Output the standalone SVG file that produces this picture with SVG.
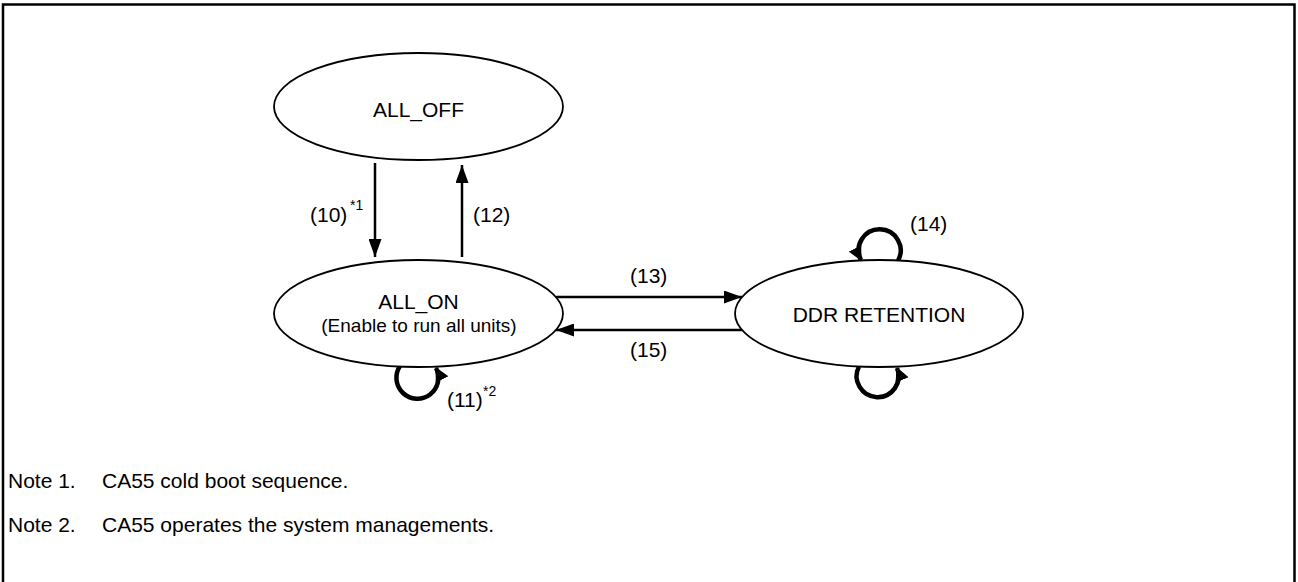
<svg xmlns="http://www.w3.org/2000/svg" width="1298" height="582" viewBox="0 0 1298 582">
<style>
.t{font-family:"Liberation Sans",Arial,sans-serif;fill:#000}
.n{font-size:21px}
.s{font-size:14px}
.nt{font-size:21px}
.st{fill:#fff;stroke:#000;stroke-width:1.8}
.ln{fill:none;stroke:#000;stroke-width:2.5}
.lp{fill:none;stroke:#000;stroke-width:4.5}
</style>
<defs>
<marker id="ah" markerUnits="userSpaceOnUse" markerWidth="18" markerHeight="13" viewBox="0 0 18 13" refX="18" refY="6.5" orient="auto"><path d="M0,0 L18,6.5 L0,13 z" fill="#000"/></marker>
<marker id="lh" markerUnits="userSpaceOnUse" markerWidth="14" markerHeight="14" viewBox="0 0 14 14" refX="13" refY="7" orient="auto"><path d="M0,0 L14,7 L0,14 z" fill="#000"/></marker>
</defs>
<path d="M3,582 V4.5 H1294.5 V582" fill="none" stroke="#000" stroke-width="2.5"/>
<g id="connectors">
<path class="ln" d="M375,163 L375,257" marker-end="url(#ah)"/>
<path class="ln" d="M462,257 L462,165" marker-end="url(#ah)"/>
<path class="ln" d="M556,297 L742,297" marker-end="url(#ah)"/>
<path class="ln" d="M742,330 L556,330" marker-end="url(#ah)"/>
<path class="lp" d="M400,366 A21,21 0 1 0 436,368" marker-end="url(#lh)"/>
<path class="lp" d="M898,260.5 A21,21 0 1 0 861,260" marker-end="url(#lh)"/>
<path class="lp" d="M859,366.5 A21,21 0 1 0 897,368" marker-end="url(#lh)"/>
<text class="t n" x="310" y="222">(10)</text><text class="t s" x="350" y="210">*1</text>
<text class="t n" x="473" y="222">(12)</text>
<text class="t n" x="630" y="283">(13)</text>
<text class="t n" x="630" y="357">(15)</text>
<text class="t n" x="910" y="231">(14)</text>
<text class="t n" x="447" y="407">(11)</text><text class="t s" x="483" y="396">*2</text>
</g>
<g id="all_off">
<ellipse class="st" cx="418.5" cy="106.5" rx="144.5" ry="53.5"/>
<text class="t n" x="418.5" y="117" text-anchor="middle">ALL_OFF</text>
</g>
<g id="all_on">
<ellipse class="st" cx="418.5" cy="313.5" rx="144.5" ry="53.5"/>
<text class="t n" x="418.5" y="309" text-anchor="middle">ALL_ON</text>
<text class="t" x="419" y="332" text-anchor="middle" font-size="19">(Enable to run all units)</text>
</g>
<g id="ddr_retention">
<ellipse class="st" cx="879" cy="313.5" rx="144" ry="53.5"/>
<text class="t n" x="879" y="322" text-anchor="middle">DDR RETENTION</text>
</g>
<g id="notes">
<text class="t nt" x="8" y="488">Note 1.</text>
<text class="t nt" x="102" y="488">CA55 cold boot sequence.</text>
<text class="t nt" x="8" y="532">Note 2.</text>
<text class="t nt" x="102" y="532">CA55 operates the system managements.</text>
</g>
</svg>
